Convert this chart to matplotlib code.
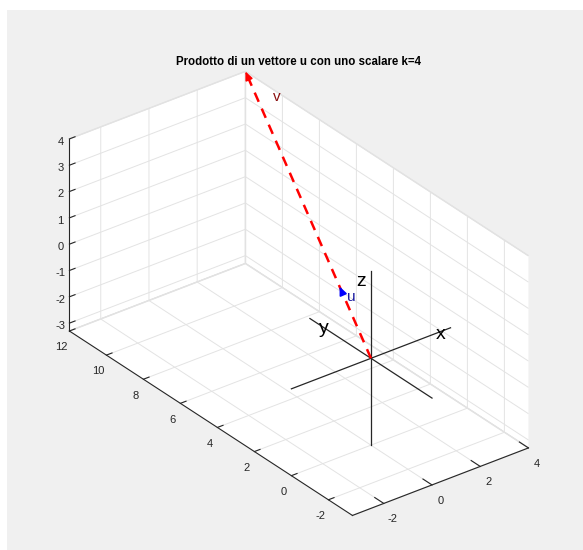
import numpy as np
import matplotlib.pyplot as plt
from mpl_toolkits.mplot3d import proj3d

# data
k = 4
u = np.array([1, 3, 1])
v = k * u
axis_ends = [-3.3, 3.3]
x_ticks = [-2, 0, 2, 4]
y_ticks = [-2, 0, 2, 4, 6, 8, 10, 12]
z_ticks = [-3, -2, -1, 0, 1, 2, 3, 4]
x_lim = (-3.3, 4)
y_lim = (-3.3, 12)
z_lim = (-3.3, 4)
title = 'Prodotto di un vettore u con uno scalare k=4'

plt.rcParams['font.family'] = ['Liberation Sans', 'DejaVu Sans']
plt.rcParams['axes.unicode_minus'] = False

fig = plt.figure(figsize=(5.83, 5.5), dpi=100, facecolor='white')
# gray figure area (MATLAB style)
fig.patches.append(plt.Rectangle((7 / 583, 0), 1, 1 - 10 / 550, transform=fig.transFigure,
                                 facecolor='#f0f0f0', edgecolor='none', zorder=-10))

ax = fig.add_axes([0.0, -0.047, 1.0, 1.0], projection='3d')
ax.set_facecolor('none')
ax.set_proj_type('ortho')
ax.view_init(elev=30, azim=-127.5)
ax.set_xlim(*x_lim)
ax.set_ylim(*y_lim)
ax.set_zlim(*z_lim)
ax.set_box_aspect((x_lim[1] - x_lim[0], y_lim[1] - y_lim[0], z_lim[1] - z_lim[0]), zoom=0.99)

ax.set_xticks(x_ticks)
ax.set_yticks(y_ticks)
ax.set_zticks(z_ticks)

for axis in (ax.xaxis, ax.yaxis, ax.zaxis):
    axis.set_pane_color((1, 1, 1, 1))
    axis.pane.set_edgecolor('#e0e0e0')
    axis.line.set_color('#262626')
    axis.line.set_linewidth(0.8)
    axis.label.set_visible(False)
    axis.offsetText.set_visible(False)
    axis._axinfo['grid']['color'] = '#e3e3e3'
    axis._axinfo['grid']['linewidth'] = 0.7
    axis._axinfo['tick']['inward_factor'] = 0.0
    axis._axinfo['tick']['outward_factor'] = 0.4
ax.tick_params(labelsize=8, colors='#262626')
ax.tick_params(axis='x', pad=-2)
ax.tick_params(axis='y', pad=1)
ax.tick_params(axis='z', pad=-4)

# coordinate axes through the origin
ax.plot(axis_ends, [0, 0], [0, 0], color='#262626', lw=0.9)
ax.plot([0, 0], axis_ends, [0, 0], color='#262626', lw=0.9)
ax.plot([0, 0], [0, 0], axis_ends, color='#262626', lw=0.9)
ax.text(3.1, 0, -0.2, 'x', fontsize=14, ha='right', va='center')
ax.text(0, 2.8, -0.15, 'y', fontsize=14, ha='left', va='center')
ax.text(-0.2, 0, 3.0, 'z', fontsize=14, ha='right', va='center')

# vectors (u lies under v, only its head shows)
ax.plot([0, v[0]], [0, v[1]], [0, v[2]], color='red', lw=1.8, ls=(0, (4, 3)))
ax.text(0.78, 2.3, 1.0, 'u', color='#1a1aa0', fontsize=11, ha='left', va='center')
ax.text(3.7, 10.1, 4.0, 'v', color='#8b1010', fontsize=11, ha='left', va='center')

fig.canvas.draw()
M = ax.get_proj()
for vec, col in ((u, 'blue'), (v, 'red')):
    tip = proj3d.proj_transform(vec[0], vec[1], vec[2], M)[:2]
    back = proj3d.proj_transform(*(vec * (1 - 0.25 / np.linalg.norm(vec))), M)[:2]
    ax.annotate('', xy=tip, xytext=back,
                arrowprops=dict(arrowstyle='-|>,head_length=0.5,head_width=0.22', color=col, lw=1.2,
                                shrinkA=0, shrinkB=0))

fig.text(0.512, 1 - 62 / 550, title, fontsize=8.3, fontweight='bold', ha='center', va='center')

fig.savefig('out.png', dpi=100, facecolor=fig.get_facecolor())
